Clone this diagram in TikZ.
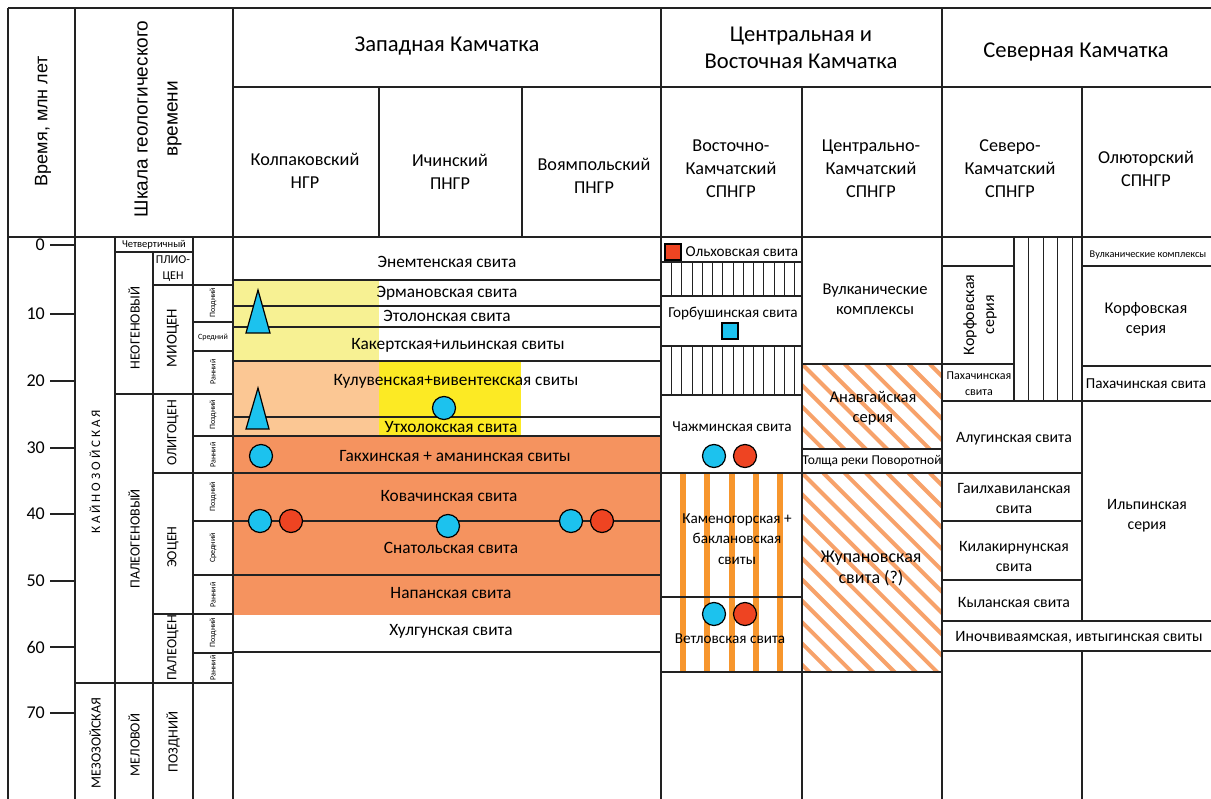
\documentclass[tikz,border=0pt]{standalone}
\usepackage{fontspec}
\setmainfont{Carlito}
\newfontfamily\arialf{Liberation Sans}
\usetikzlibrary{shapes.geometric}
\definecolor{cpale}{HTML}{F7F193}
\definecolor{cltor}{HTML}{FBC794}
\definecolor{cyel}{HTML}{FCEA24}
\definecolor{cor}{HTML}{F5935F}
\definecolor{cblue}{HTML}{1CC2EE}
\definecolor{cred}{HTML}{EE4422}
\definecolor{cstripe}{HTML}{F7962D}
\definecolor{chatch}{HTML}{F7A26A}
\definecolor{cline}{HTML}{222222}
\newcommand\fsz[2]{\fontsize{#1}{#2}\selectfont}
\begin{document}
\begin{tikzpicture}[x=1pt,y=-1pt,
  ln/.style={draw=cline,line width=1.3pt},
  thk/.style={draw=cline,line width=2.2pt},
  thn/.style={draw=cline,line width=1pt},
  hatch/.style={draw=chatch,line width=4pt},
  lbl/.style={inner sep=0pt,align=center,text=black,font=\fsz{15.5}{20}},
  wl/.style={lbl,font=\fsz{17.3}{20}},
  el/.style={lbl,font=\fsz{15.2}{20.5}},
  cl/.style={lbl,font=\fsz{16.5}{20}},
  nl/.style={lbl,font=\fsz{15.8}{20}},
  hd/.style={lbl,font=\fsz{18.2}{23}},
  hh/.style={lbl,font=\fsz{22.6}{27}},
  rot/.style={lbl,rotate=90,font=\fsz{14}{16}},
  rots/.style={lbl,rotate=90,font=\fsz{8}{9}},
  sm/.style={lbl,font=\fsz{8}{9}},
  bc/.style={circle,draw=black,line width=1.2pt,fill=cblue,minimum size=23pt,inner sep=0pt},
  rc/.style={bc,fill=cred},
  bsq/.style={rectangle,draw=black,line width=1.2pt,fill=cblue,minimum size=16pt,inner sep=0pt},
  rsq/.style={bsq,fill=cred}]
\useasboundingbox (0,0) rectangle (1211,799);
\fill[white] (0,0) rectangle (1211,799);
% ---------- fills ----------
\fill[cpale] (233,280) rectangle (379,361);
\fill[cltor] (233,361) rectangle (379,436);
\fill[cyel] (379,361) rectangle (521,436);
\fill[cor] (233,436) rectangle (661,615);
\foreach \x in {683,707,732,756,780} \fill[cstripe] (\x-3,473) rectangle (\x+3,672);
\begin{scope}
  \clip (802,364) rectangle (942,449);
  \foreach \i in {-6,...,7} \draw[hatch] (802+\i*21.3,364) -- ++(200,200);
\end{scope}
\begin{scope}
  \clip (802,473) rectangle (942,672);
  \foreach \i in {-12,...,7} \draw[hatch] (802+\i*21.3,473) -- ++(300,300);
\end{scope}
% vertical black hatch
\foreach \k in {0,...,12} {
  \draw[thn] (671.5+10.25*\k,262) -- (671.5+10.25*\k,296);
  \draw[thn] (671.5+10.25*\k,346) -- (671.5+10.25*\k,395);
}
\foreach \x in {1028,1043,1057,1072} \draw[thn] (\x,237) -- (\x,401);
% ---------- frame / header ----------
\draw[ln] (8,8) -- (1211,8);
\draw[ln] (8,8) -- (8,799);
\draw[ln] (75,8) -- (75,799);
\draw[ln] (661,8) -- (661,799);
\draw[ln] (942,8) -- (942,799);
\draw[ln] (233,87) -- (1211,87);
\draw[ln] (379,87) -- (379,237);
\draw[ln] (522,87) -- (522,237);
\draw[ln] (802,87) -- (802,799);
\draw[ln] (1082,87) -- (1082,621);
\draw[ln] (1082,651) -- (1082,799);
\draw[ln] (8,237) -- (1211,237);
% ---------- left time scale ----------
\draw[ln] (115,237) -- (115,799);
\draw[ln] (153,252) -- (153,799);
\draw[ln] (193,237) -- (193,799);
\draw[ln] (115,252) -- (193,252);
\draw[ln] (153,285) -- (233,285);
\draw[ln] (193,322) -- (233,322);
\draw[ln] (193,351) -- (233,351);
\draw[ln] (115,394) -- (233,394);
\draw[ln] (193,436) -- (233,436);
\draw[ln] (153,473) -- (233,473);
\draw[ln] (193,521) -- (233,521);
\draw[ln] (193,575) -- (233,575);
\draw[ln] (153,614) -- (233,614);
\draw[ln] (193,653) -- (233,653);
\draw[ln] (75,683) -- (233,683);
\foreach \t/\y in {0/245,10/314,20/381,30/448,40/514,50/581,60/647,70/713} {
  \draw[ln] (50,\y) -- (75,\y);
  \node[lbl,anchor=east,font=\fsz{18}{20}] (tk\t) at (45,\y) {\t};
}
% ---------- west ----------
\foreach \y in {280,306,327,361,417,436,473,521,575,652} \draw[ln] (233,\y) -- (661,\y);
% ---------- east ----------
\foreach \y in {262,296,346,395,473,597,672} \draw[ln] (661,\y) -- (802,\y);
\foreach \y in {364,449,473,672} \draw[ln] (802,\y) -- (942,\y);
% ---------- north ----------
\draw[ln] (1014,237) -- (1014,401);
\draw[ln] (942,266) -- (1014,266);
\draw[ln] (942,364) -- (1014,364);
\foreach \y in {401,473,521,580} \draw[ln] (942,\y) -- (1082,\y);
\draw[ln] (942,621) -- (1211,621);
\draw[ln] (942,651) -- (1211,651);
\draw[ln] (1082,266) -- (1211,266);
\draw[ln] (1082,366) -- (1211,366);
\draw[ln] (1082,401) -- (1211,401);
\draw[thk] (233,8) -- (233,799);
% ---------- header text ----------
\node[lbl,rotate=90,font=\arialf\fsz{18}{22}] (hTime) at (43,121) {Время, млн лет};
\node[lbl,rotate=90,font=\arialf\fsz{19}{30}] (hScale) at (158,119) {Шкала геологического\\времени};
\node[hh] (hWest) at (447,46) {Западная Камчатка};
\node[hh] (hCent) at (801,48) {Центральная и\\Восточная Камчатка};
\node[hh] (hNorth) at (1076,52) {Северная Камчатка};
\node[hd] (hKolp) at (305,171) {Колпаковский\\НГР};
\node[hd] (hIch) at (450,172) {Ичинский\\ПНГР};
\node[hd] (hVoy) at (594,176) {Воямпольский\\ПНГР};
\node[hd] (hVK) at (731,169) {Восточно-\\Камчатский\\СПНГР};
\node[hd] (hCK) at (871,169) {Центрально-\\Камчатский\\СПНГР};
\node[hd] (hSK) at (1010,169) {Северо-\\Камчатский\\СПНГР};
\node[hd] (hOl) at (1146,169) {Олюторский\\СПНГР};
% ---------- time-scale text ----------
\node[lbl,font=\fsz{10.5}{12}] (quat) at (154,245) {Четвертичный};
\node[lbl,font=\fsz{12}{16}] (plio) at (173,269) {ПЛИО-\\ЦЕН};
\node[rot] (neog) at (134,328) {НЕОГЕНОВЫЙ};
\node[rot,font=\fsz{15}{16}] (mio) at (173,338) {МИОЦЕН};
\node[rot] (paleog) at (134,539) {ПАЛЕОГЕНОВЫЙ};
\node[rot] (olig) at (173,433) {ОЛИГОЦЕН};
\node[rot] (eoc) at (173,547) {ЭОЦЕН};
\node[rot] (paleoc) at (173,648) {ПАЛЕОЦЕН};
\node[rot,font=\fsz{13}{16}] (kain) at (95,472) {К А Й Н О З О Й С К А Я};
\node[rot] (mez) at (95,743) {МЕЗОЗОЙСКАЯ};
\node[rot] (mel) at (134,745) {МЕЛОВОЙ};
\node[rot] (pozd) at (173,742) {ПОЗДНИЙ};
\node[rots] (s1) at (213,303) {Поздний};
\node[sm] (s2) at (213,337) {Средний};
\node[rots] (s3) at (213,372) {Ранний};
\node[rots] (s4) at (213,415) {Поздний};
\node[rots] (s5) at (213,455) {Ранний};
\node[rots] (s6) at (213,497) {Поздний};
\node[rots] (s7) at (213,548) {Средний};
\node[rots] (s8) at (213,595) {Ранний};
\node[rots] (s9) at (213,633) {Поздний};
\node[rots] (s10) at (213,668) {Ранний};
% ---------- west text ----------
\node[wl] (w1) at (447,262) {Энемтенская свита};
\node[wl] (w2) at (447,293) {Эрмановская свита};
\node[wl] (w3) at (447,316) {Этолонская свита};
\node[wl] (w4) at (458,345) {Какертская+ильинская свиты};
\node[wl] (w5) at (456,381) {Кулувенская+вивентекская свиты};
\node[wl] (w6) at (451,427) {Утхолокская свита};
\node[wl] (w7) at (455,456) {Гакхинская + аманинская свиты};
\node[wl] (w8) at (449,496) {Ковачинская свита};
\node[wl] (w9) at (451,548) {Снатольская свита};
\node[wl] (w10) at (451,593) {Напанская свита};
\node[wl] (w11) at (451,631) {Хулгунская свита};
% ---------- east text ----------
\node[el] (e1) at (742,252) {Ольховская свита};
\node[el] (e2) at (733,314) {Горбушинская свита};
\node[el] (e3) at (732,427) {Чажминская свита};
\node[el] (e4) at (737,539) {Каменогорская +\\баклановская\\свиты};
\node[el] (e5) at (730,639) {Ветловская свита};
% ---------- central text ----------
\node[cl] (k1) at (875,299) {Вулканические\\комплексы};
\node[cl] (k2) at (873,408) {Анавгайская\\серия};
\node[lbl,font=\fsz{13.5}{16}] (k3) at (872,461) {Толща реки Поворотной};
\node[lbl,font=\fsz{18}{21}] (k4) at (871,568) {Жупановская\\свита (?)};
% ---------- north text ----------
\node[lbl,rotate=90,font=\fsz{16}{20}] (n1) at (980,315) {Корфовская\\серия};
\node[lbl,font=\fsz{12}{16}] (n2) at (979,384) {Пахачинская\\свита};
\node[lbl,font=\fsz{10.3}{11}] (n3) at (1148,255) {Вулканические комплексы};
\node[lbl,font=\fsz{16.4}{20}] (n4) at (1146,319) {Корфовская\\серия};
\node[nl,font=\fsz{15.2}{20}] (n5) at (1146,384) {Пахачинская свита};
\node[nl] (n6) at (1014,439) {Алугинская свита};
\node[nl] (n7) at (1014,498) {Гаилхавиланская\\свита};
\node[nl] (n8) at (1014,556) {Килакирнунская\\свита};
\node[nl] (n9) at (1014,602) {Кыланская свита};
\node[nl] (n10) at (1079,637) {Иночвиваямская, ивтыгинская свиты};
\node[nl] (n11) at (1147,516) {Ильпинская\\серия};
% ---------- symbols ----------
\filldraw[fill=cblue,draw=black,line width=1.2pt] (258,290) -- (270,333) -- (246,333) -- cycle;
\filldraw[fill=cblue,draw=black,line width=1.2pt] (258,388) -- (269,429) -- (246,429) -- cycle;
\node[bc] (c1) at (444,408) {};
\node[bc] (c2) at (261,456) {};
\node[bc] (c3) at (260,521) {};
\node[rc] (c4) at (291,521) {};
\node[bc] (c5) at (448,526) {};
\node[bc] (c6) at (571,521) {};
\node[rc] (c7) at (602,521) {};
\node[bc] (c8) at (714,456) {};
\node[rc] (c9) at (745,456) {};
\node[bc] (c10) at (714,614) {};
\node[rc] (c11) at (745,614) {};
\node[rsq] (sq1) at (673,252) {};
\node[bsq] (sq2) at (730,331) {};
\end{tikzpicture}
\end{document}
